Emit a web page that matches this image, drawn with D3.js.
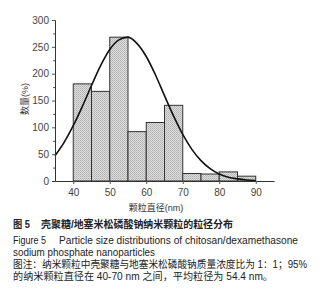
<!DOCTYPE html>
<html>
<head>
<meta charset="utf-8">
<script src="https://cdn.jsdelivr.net/npm/d3@7"></script>
<style>
  body { margin: 0; background: #fff; }
  svg { display: block; }
  text { font-family: "Liberation Sans", Arial, "Noto Sans CJK SC", sans-serif; fill: #222; }
</style>
</head>
<body>
<script>
// histogram bins (nm) and counts
const binStart = [40, 45, 50, 55, 60, 65, 70, 75, 80, 85];
const binCount = [181, 167, 268, 92, 109, 141, 14, 13, 17, 9];
// fitted curve, sampled by eye
const curveX = [35, 37.5, 40, 42.5, 45, 47.5, 50, 52.5, 55, 57.5, 60, 62.5, 65, 67.5, 70, 72.5, 75, 77.5, 80, 82.5, 85, 87.5, 90];
const curveY = [47, 72, 103, 139, 178, 215, 245, 263, 268, 256, 232, 198, 159, 121, 87, 59, 38, 23, 13, 7, 4, 2, 1];
const xTicks = [40, 50, 60, 70, 80, 90];
const yTicks = [0, 50, 100, 150, 200, 250, 300];
const yMinor = [25, 75, 125, 175, 225, 275];

const w = 320, h = 300;
const binW = 5;

const svg = d3.select('body').append('svg')
  .attr('width', w)
  .attr('height', h);

const defs = svg.append('defs');
const pat = defs.append('pattern')
  .attr('id', 'dither')
  .attr('width', 2).attr('height', 2)
  .attr('patternUnits', 'userSpaceOnUse');
pat.append('rect').attr('width', 2).attr('height', 2).attr('fill', '#dedede');
pat.append('rect').attr('width', 1).attr('height', 1).attr('fill', '#b0b0b0');
pat.append('rect').attr('x', 1).attr('y', 1).attr('width', 1).attr('height', 1).attr('fill', '#bcbcbc');

const x = d3.scaleLinear([35, 95], [55, 274]);
const y = d3.scaleLinear([0, 300], [181, 20]);

// bars
svg.append('g')
  .selectAll('rect')
  .data(binStart.map((s, i) => ({s, v: binCount[i]})))
  .enter().append('rect')
    .attr('x', d => x(d.s))
    .attr('y', d => y(d.v))
    .attr('width', d => x(d.s + binW) - x(d.s))
    .attr('height', d => y(0) - y(d.v))
    .attr('fill', 'url(#dither)')
    .attr('stroke', '#333')
    .attr('stroke-width', 1);

// curve
const line = d3.line()
  .x(d => x(d[0]))
  .y(d => y(d[1]))
  .curve(d3.curveMonotoneX);
svg.append('path')
  .datum(curveX.map((v, i) => [v, curveY[i]]))
  .attr('d', line)
  .attr('fill', 'none')
  .attr('stroke', '#111')
  .attr('stroke-width', 1.6);

// axes
const yAxis = svg.append('g')
  .attr('transform', `translate(${x(35)},0)`)
  .call(d3.axisLeft(y).tickValues(yTicks).tickSize(3).tickPadding(3));
yAxis.selectAll('.tick')
  .filter(d => d === 0).select('line').remove();
svg.append('g')
  .attr('transform', `translate(${x(35)},0)`)
  .call(d3.axisLeft(y).tickValues(yMinor).tickSize(2).tickFormat(''))
  .select('.domain').remove();

svg.append('g')
  .attr('transform', `translate(0,${y(0)})`)
  .call(d3.axisBottom(x).tickValues(xTicks).tickSize(3).tickPadding(5).tickSizeOuter(0));

svg.selectAll('.domain').attr('stroke', '#333');
svg.selectAll('.tick line').attr('stroke', '#555');
svg.selectAll('.tick text')
  .style('font-size', '10px')
  .style('fill', '#444');

// axis titles
svg.append('text')
  .attr('transform', 'translate(28,99) rotate(-90)')
  .attr('text-anchor', 'middle')
  .style('font-size', '9px')
  .style('fill', '#333')
  .text('数量(%)');

svg.append('text')
  .attr('x', 156).attr('y', 211)
  .attr('text-anchor', 'middle')
  .style('font-size', '9px')
  .style('fill', '#333')
  .text('颗粒直径(nm)');

// caption
const cap = svg.append('g');
function capLine(str, x0, y0, len, size, bold) {
  const t = cap.append('text')
    .attr('x', x0).attr('y', y0)
    .style('font-size', size + 'px')
    .style('font-weight', bold ? 'bold' : 'normal')
    .text(str);
  if (len) t.attr('textLength', len).attr('lengthAdjust', 'spacingAndGlyphs');
  return t;
}
capLine('图 5', 13, 228, 17, 10, true);
capLine('壳聚糖/地塞米松磷酸钠纳米颗粒的粒径分布', 41, 228, 192, 10, true);
capLine('Figure 5', 13, 244, 33, 10, false);
capLine('Particle size distributions of chitosan/dexamethasone', 59, 244, 239, 10, false);
capLine('sodium phosphate nanoparticles', 13, 256, 142, 10, false);
capLine('图注：纳米颗粒中壳聚糖与地塞米松磷酸钠质量浓度比为 1：1；95%', 13, 268, 294, 10, false);
capLine('的纳米颗粒直径在 40-70 nm 之间，平均粒径为 54.4 nm。', 13, 280, 260, 10, false);
</script>
</body>
</html>
